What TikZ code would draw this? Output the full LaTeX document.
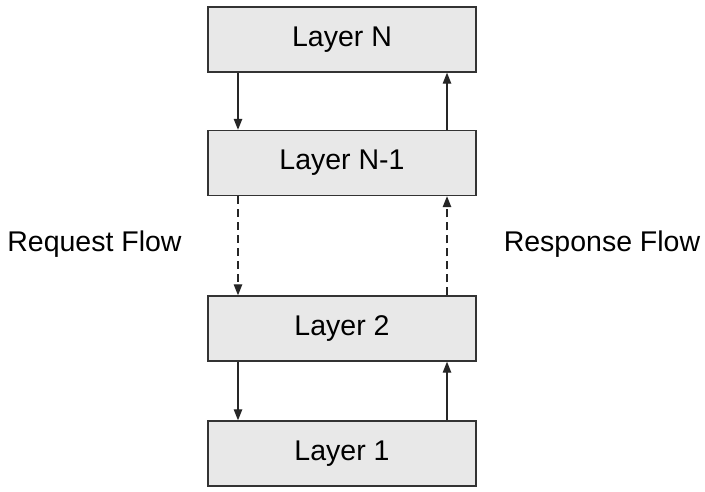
\documentclass[tikz,border=0pt]{standalone}
\usepackage{fontspec}
\setmainfont{Liberation Sans}
\usetikzlibrary{arrows.meta}
\begin{document}
\begin{tikzpicture}[x=1pt,y=-1pt,
  layerbox/.style={draw=black!80,fill=black!9,line width=1.4pt,minimum width=268pt,minimum height=65pt,inner sep=0pt,font=\fontsize{28.5}{32}\selectfont},
  flow/.style={draw=black!85,line width=1.3pt,-{Triangle[length=11pt,width=8.5pt]}},
  lbl/.style={font=\fontsize{28.5}{32}\selectfont,inner sep=0pt}]
\useasboundingbox (0,0) rectangle (705,492);
\node[layerbox] (LN) at (342,39.5) {\raisebox{-1pt}{Layer N}};
\node[layerbox] (LN1) at (342,163) {\raisebox{-1pt}{Layer N-1}};
\node[layerbox] (L2) at (342,328.5) {\raisebox{-1pt}{Layer 2}};
\node[layerbox] (L1) at (342,453.5) {\raisebox{-1pt}{Layer 1}};
\node[lbl] (req) at (94.5,244) {Request Flow};
\node[lbl] (resp) at (602,244) {Response Flow};
\draw[flow] ([xshift=-104pt]LN.south) -- ([xshift=-104pt]LN1.north);
\draw[flow] ([xshift=105pt]LN1.north) -- ([xshift=105pt]LN.south);
\draw[flow,dash pattern=on 8pt off 5pt] ([xshift=-104pt]LN1.south) -- ([xshift=-104pt]L2.north);
\draw[flow,dash pattern=on 8pt off 5pt] ([xshift=105pt]L2.north) -- ([xshift=105pt]LN1.south);
\draw[flow] ([xshift=-104pt]L2.south) -- ([xshift=-104pt]L1.north);
\draw[flow] ([xshift=105pt]L1.north) -- ([xshift=105pt]L2.south);
\end{tikzpicture}
\end{document}
